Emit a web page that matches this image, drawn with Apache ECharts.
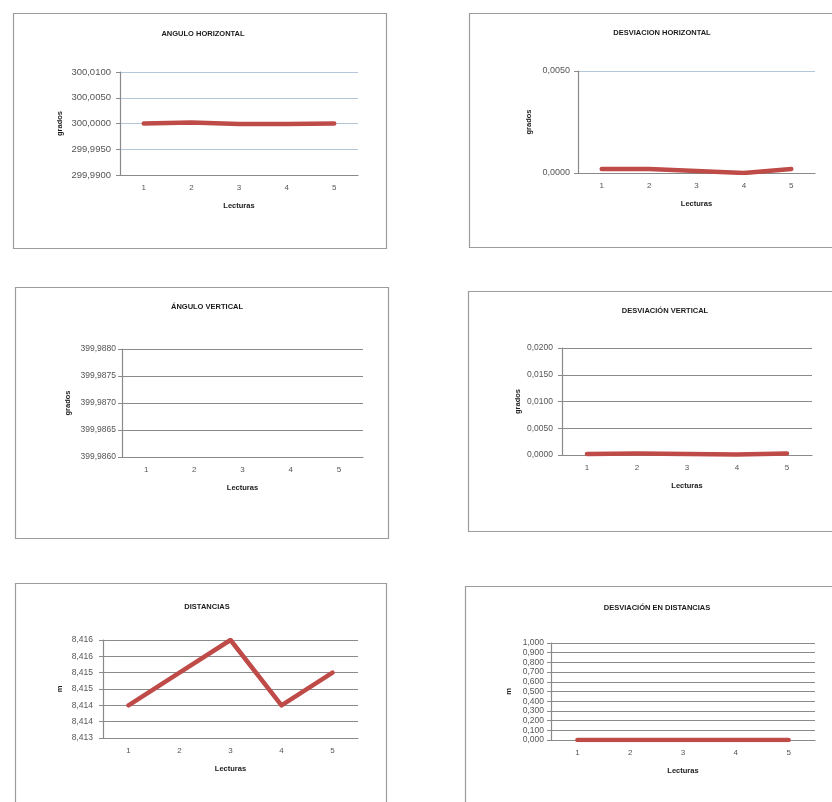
<!DOCTYPE html>
<html>
<head>
<meta charset="utf-8">
<script src="https://cdn.jsdelivr.net/npm/echarts@6/dist/echarts.min.js"></script>
<style>
  html, body { margin: 0; padding: 0; background: #ffffff; }
  #chart { width: 832px; height: 802px; }
</style>
</head>
<body>
<div id="chart"></div>
<script>
// Readings 1..5 shared by every panel
const lecturas = ['1', '2', '3', '4', '5'];

// Horizontal angle (grados) and its deviation
const anguloHorizontal = [300.0000, 300.0002, 299.9999, 299.9999, 300.0000];
const desviacionHorizontal = [0.0002, 0.0002, 0.0001, 0.0000, 0.0002];

// Vertical angle: no reading falls inside the plotted window
const anguloVertical = [];
const desviacionVertical = [0.0002, 0.0003, 0.0002, 0.0001, 0.0003];

// Distances (m) and their deviation
const distancias = [8.4140, 8.4150, 8.4160, 8.4140, 8.4150];
const desviacionDistancias = [0.000, 0.000, 0.000, 0.000, 0.000];

// Tick labels, bottom to top
const ticksAnguloH = ['299,9900', '299,9950', '300,0000', '300,0050', '300,0100'];
const ticksDesvH = ['0,0000', '0,0050'];
const ticksAnguloV = ['399,9860', '399,9865', '399,9870', '399,9875', '399,9880'];
const ticksDesvV = ['0,0000', '0,0050', '0,0100', '0,0150', '0,0200'];
const ticksDist = ['8,413', '8,414', '8,414', '8,415', '8,415', '8,416', '8,416'];
const ticksDesvDist = ['0,000', '0,100', '0,200', '0,300', '0,400', '0,500',
                       '0,600', '0,700', '0,800', '0,900', '1,000'];

const FONT = 'Liberation Sans, Arial, sans-serif';
const RED = '#be4b48';

// Panel layout: frame, plot rectangle, title and axis settings
const panels = [
  { title: 'ANGULO HORIZONTAL', frame: [13, 13, 373, 235], titleX: 198, titleY: 25,
    grid: { left: 120, top: 72, width: 238, height: 103 },
    min: 299.99, max: 300.01, interval: 0.005, ticks: ticksAnguloH,
    data: anguloHorizontal, yName: 'grados', yGap: 56, splitColor: '#b3c6da',
    labelSize: 9.5, labelGap: 9 },
  { title: 'DESVIACION HORIZONTAL', frame: [469, 13, 420, 234], titleX: 657, titleY: 24,
    grid: { left: 578, top: 71, width: 237, height: 102 },
    min: 0, max: 0.005, interval: 0.005, ticks: ticksDesvH,
    data: desviacionHorizontal, yName: 'grados', yGap: 45, splitColor: '#b3c6da',
    labelSize: 9, labelGap: 8 },
  { title: 'ÁNGULO VERTICAL', frame: [15, 287, 373, 251], titleX: 202, titleY: 298,
    grid: { left: 122, top: 349, width: 241, height: 108 },
    min: 399.986, max: 399.988, interval: 0.0005, ticks: ticksAnguloV,
    data: anguloVertical, yName: 'grados', yGap: 50, splitColor: '#8a8a8a',
    labelSize: 8.5, labelGap: 6 },
  { title: 'DESVIACIÓN VERTICAL', frame: [468, 291, 420, 240], titleX: 660, titleY: 302,
    grid: { left: 562, top: 348, width: 250, height: 107 },
    min: 0, max: 0.02, interval: 0.005, ticks: ticksDesvV,
    data: desviacionVertical, yName: 'grados', yGap: 40, splitColor: '#8a8a8a',
    labelSize: 8.5, labelGap: 9 },
  { title: 'DISTANCIAS', frame: [15, 583, 371, 300], titleX: 202, titleY: 598,
    grid: { left: 103, top: 640, width: 255, height: 98 },
    min: 8.413, max: 8.416, interval: 0.0005, ticks: ticksDist,
    data: distancias, yName: 'm', yGap: 39, splitColor: '#8a8a8a',
    labelSize: 8.5, labelGap: 10 },
  { title: 'DESVIACIÓN EN DISTANCIAS', frame: [465, 586, 420, 300], titleX: 652, titleY: 599,
    grid: { left: 551, top: 643, width: 264, height: 97 },
    min: 0, max: 1, interval: 0.1, ticks: ticksDesvDist,
    data: desviacionDistancias, yName: 'm', yGap: 38, splitColor: '#8a8a8a',
    labelSize: 8.5, labelGap: 7 }
];

const option = {
  animation: false,
  backgroundColor: '#ffffff',
  title: panels.map(p => ({
    text: p.title,
    left: p.titleX,
    top: p.titleY,
    textAlign: 'center',
    textStyle: { fontFamily: FONT, fontSize: 7.5, fontWeight: 'bold', color: '#1a1a1a' }
  })),
  graphic: panels.map(p => ({
    type: 'rect',
    silent: true,
    z: -1,
    shape: { x: p.frame[0] + 0.5, y: p.frame[1] + 0.5, width: p.frame[2], height: p.frame[3] },
    style: { fill: 'none', stroke: '#9c9c9c', lineWidth: 1.2 }
  })),
  grid: panels.map(p => Object.assign({ containLabel: false }, p.grid)),
  xAxis: panels.map((p, i) => ({
    type: 'category',
    gridIndex: i,
    data: lecturas,
    boundaryGap: true,
    name: 'Lecturas',
    nameLocation: 'middle',
    nameGap: 27,
    nameTextStyle: { fontFamily: FONT, fontSize: 7.5, fontWeight: 'bold', color: '#1a1a1a' },
    axisLine: { lineStyle: { color: '#8a8a8a', width: 1.2 } },
    axisTick: { show: false },
    axisLabel: { fontFamily: FONT, fontSize: 8, color: '#555555', margin: 9 }
  })),
  yAxis: panels.map((p, i) => ({
    type: 'value',
    gridIndex: i,
    min: p.min,
    max: p.max,
    interval: p.interval,
    name: p.yName,
    nameLocation: 'middle',
    nameGap: p.yGap,
    nameTextStyle: { fontFamily: FONT, fontSize: 7.5, fontWeight: 'bold', color: '#1a1a1a' },
    axisLine: { show: true, lineStyle: { color: '#8a8a8a', width: 1.2 } },
    axisTick: { show: true, length: 4, lineStyle: { color: '#8a8a8a' } },
    axisLabel: {
      fontFamily: FONT, fontSize: p.labelSize, color: '#555555', margin: p.labelGap,
      formatter: v => p.ticks[Math.round((v - p.min) / p.interval)] || ''
    },
    splitLine: { show: true, lineStyle: { color: p.splitColor, width: 1.2 } }
  })),
  series: panels.map((p, i) => ({
    type: 'line',
    xAxisIndex: i,
    yAxisIndex: i,
    data: p.data,
    symbol: 'none',
    lineStyle: { color: RED, width: 4.5, cap: 'round', join: 'round' }
  }))
};

echarts.init(document.getElementById('chart'), null, { renderer: 'canvas' }).setOption(option);
</script>
</body>
</html>
